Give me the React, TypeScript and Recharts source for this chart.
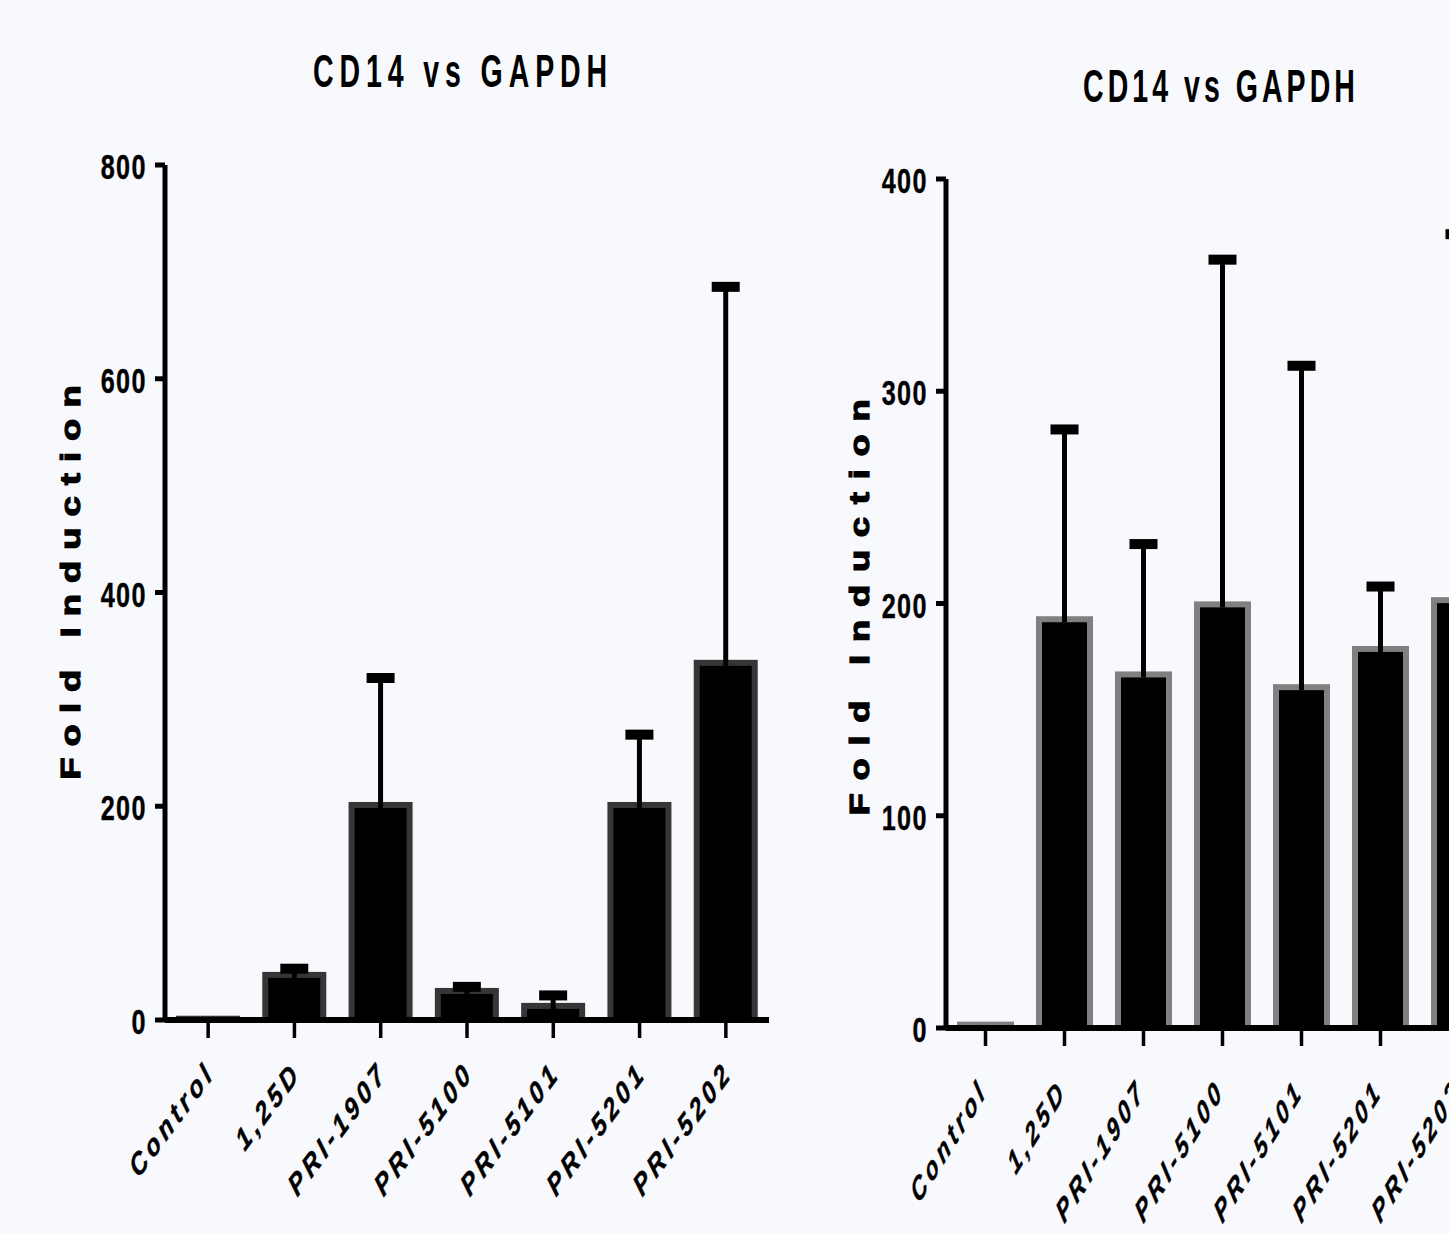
import React from 'react';
import { BarChart, Bar, XAxis, YAxis } from 'recharts';

const categories = ['Control', '1,25D', 'PRI-1907', 'PRI-5100', 'PRI-5101', 'PRI-5201', 'PRI-5202'];

// left panel (0-800 scale)
const leftMeans = [4, 45, 204, 30, 16, 204, 337];
const leftSem = [0, 3, 116, 1, 7, 63, 349];
const leftTicks = [0, 200, 400, 600, 800];

// right panel (0-400 scale)
const rightMeans = [3, 194, 168, 201, 162, 180, 203];
const rightSem = [0, 88, 60, 161, 150, 28, 171];
const rightTicks = [0, 100, 200, 300, 400];

const title = 'CD14 vs GAPDH';
const yTitle = 'Fold Induction';

const FONT = '"Liberation Sans", Arial, sans-serif';

const buildRows = (means: number[], sems: number[]) =>
  categories.map((name, i) => ({ name, mean: means[i], sem: sems[i] }));

const leftData = buildRows(leftMeans, leftSem);
const rightData = buildRows(rightMeans, rightSem);

// bar with inner border + upper error bar (cap drawn thicker than the stem)
const makeShape = (border: string) => (props: any) => {
  const { x, y, width, height, payload } = props;
  if (height == null || width == null) return <g />;
  const b = 6;
  const base = y + height;
  const perUnit = payload.mean ? height / payload.mean : 0;
  const errTop = base - (payload.mean + payload.sem) * perUnit;
  const cx = x + width / 2;
  return (
    <g>
      <rect x={x} y={y} width={width} height={height} fill={border} />
      {height > b && (
        <rect x={x + b} y={y + b} width={width - 2 * b} height={height - b} fill="#000" />
      )}
      {payload.sem > 0 && (
        <g>
          <line x1={cx} x2={cx} y1={y + b} y2={errTop} stroke="#000" strokeWidth={5} />
          <rect x={cx - 14} y={errTop - 5} width={28} height={10} fill="#000" />
        </g>
      )}
    </g>
  );
};

const YTick = ({ x, y, payload }: any) => (
  <g transform={`translate(${x},${y + 14}) scale(0.72,1)`}>
    <text x={0} y={0} textAnchor="end" fontFamily={FONT} fontWeight="bold" fontSize={35} letterSpacing={2} fill="#000" stroke="#000" strokeWidth={0.4}>
      {payload.value}
    </text>
  </g>
);

// the original figure is squeezed horizontally, so labels are rotated then compressed
const makeXTick = (sx: number, size: number, spacing: number, dx: number, dy: number) => ({ x, y, payload }: any) => (
  <g transform={`translate(${x + dx},${y + dy}) scale(${sx},1) rotate(-45)`}>
    <text textAnchor="end" fontFamily={FONT} fontWeight="bold" fontStyle="italic" fontSize={size} letterSpacing={spacing} fill="#000" stroke="#000" strokeWidth={0.5}>
      {payload.value}
    </text>
  </g>
);

const yLabel = (cx: number, cy: number, spacing: number) => () => (
  <text
    transform={`translate(${cx},${cy}) rotate(-90) scale(1.3,1)`}
    textAnchor="middle"
    fontFamily={FONT}
    fontWeight="bold"
    fontSize={28}
    letterSpacing={spacing}
    fill="#000"
    stroke="#000"
    strokeWidth={1.2}
  >
    {yTitle}
  </text>
);

interface PanelProps {
  data: { name: string; mean: number; sem: number }[];
  ticks: number[];
  left: number;
  width: number;
  margin: { top: number; right: number; bottom: number; left: number };
  yWidth: number;
  barSize: number;
  border: string;
  labelPos: [number, number];
  labelSpacing: number;
  tickShape: (p: any) => React.ReactElement;
}

const Panel: React.FC<PanelProps> = ({ data, ticks, left, width, margin, yWidth, barSize, border, labelPos, labelSpacing, tickShape }) => (
  <div style={{ position: 'absolute', left, top: 0 }}>
    <BarChart width={width} height={1234} data={data} margin={margin} barSize={barSize}>
      <XAxis
        dataKey="name"
        interval={0}
        height={150}
        axisLine={{ stroke: '#000', strokeWidth: 6 }}
        tickLine={{ stroke: '#000', strokeWidth: 3.5 }}
        tickSize={18}
        tick={tickShape}
      />
      <YAxis
        domain={[ticks[0], ticks[ticks.length - 1]]}
        ticks={ticks}
        width={yWidth}
        axisLine={{ stroke: '#000', strokeWidth: 5 }}
        tickLine={{ stroke: '#000', strokeWidth: 5 }}
        tickSize={10}
        tickMargin={8}
        tick={<YTick />}
        label={{ content: yLabel(labelPos[0] - left, labelPos[1], labelSpacing) }}
      />
      <Bar dataKey="mean" shape={makeShape(border)} isAnimationActive={false} />
    </BarChart>
  </div>
);

export default function App() {
  return (
    <div
      style={{
        position: 'fixed',
        left: 0,
        top: 0,
        width: 1449,
        height: 1234,
        overflow: 'hidden',
        background: '#f7f9fc',
      }}
    >
      <Panel
        data={leftData}
        ticks={leftTicks}
        left={0}
        width={800}
        margin={{ top: 165, right: 31, bottom: 64, left: 100 }}
        yWidth={65}
        barSize={64}
        border="#363636"
        labelPos={[80, 577]}
        labelSpacing={8.5}
        tickShape={makeXTick(0.74, 31, 5.5, 8, 34)}
      />
      <Panel
        data={rightData}
        ticks={rightTicks}
        left={800}
        width={760}
        margin={{ top: 179, right: 61, bottom: 56, left: 86 }}
        yWidth={60}
        barSize={57}
        border="#808080"
        labelPos={[869, 601]}
        labelSpacing={9.8}
        tickShape={makeXTick(0.62, 33, 6, 3, 44)}
      />
      <svg width={1449} height={1234} style={{ position: 'absolute', left: 0, top: 0, pointerEvents: 'none' }}>
        <g transform="translate(463,87) scale(0.62,1)">
          <text textAnchor="middle" fontFamily={FONT} fontWeight="bold" fontSize={46} letterSpacing={9.5} fill="#000">
            {title}
          </text>
        </g>
        <g transform="translate(1221,102) scale(0.62,1)">
          <text textAnchor="middle" fontFamily={FONT} fontWeight="bold" fontSize={46} letterSpacing={6.5} fill="#000">
            {title}
          </text>
        </g>
      </svg>
    </div>
  );
}
